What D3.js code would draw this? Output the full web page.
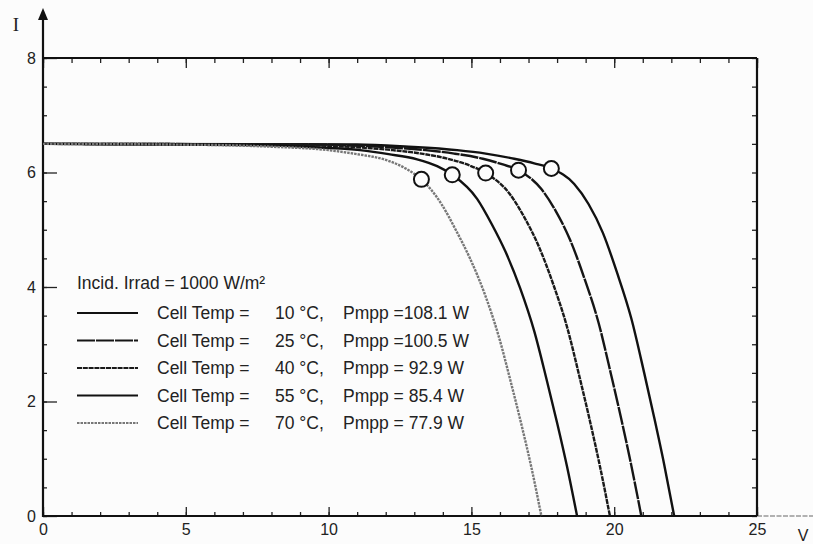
<!DOCTYPE html>
<html>
<head>
<meta charset="utf-8">
<script src="https://cdn.jsdelivr.net/npm/d3@7/dist/d3.min.js"></script>
<style>
  html, body { margin: 0; padding: 0; background: #fcfcfc; }
  svg { display: block; }
  text { font-family: "Liberation Sans", Arial, sans-serif; fill: #222; }
</style>
</head>
<body>
<svg id="chart" width="813" height="544"></svg>
<script>
// PV module I-V characteristics at 1000 W/m² for five cell temperatures
const temps = [10, 25, 40, 55, 70];
const pmpp = [108.1, 100.5, 92.9, 85.4, 77.9];

// voltage (V) / current (A) samples along each curve
const volt10 = [0, 11.0, 12.8, 14.5, 15.5, 16.5, 17.2, 17.8, 18.6, 19.1, 19.6, 20.1, 20.6, 21.05, 21.4, 21.75, 22.1];
const amp10  = [6.50, 6.49, 6.45, 6.39, 6.33, 6.24, 6.16, 6.07, 5.80, 5.45, 4.95, 4.25, 3.45, 2.50, 1.72, 0.90, 0];
const volt25 = [0, 9.4, 11.4, 13.4, 14.4, 15.4, 16.1, 16.65, 17.45, 17.95, 18.45, 18.95, 19.45, 19.9, 20.25, 20.6, 20.95];
const amp25  = [6.50, 6.49, 6.46, 6.39, 6.33, 6.24, 6.14, 6.04, 5.71, 5.33, 4.83, 4.16, 3.38, 2.45, 1.69, 0.88, 0];
const volt40 = [0, 8.25, 10.25, 12.25, 13.25, 14.25, 14.95, 15.5, 16.35, 16.85, 17.35, 17.85, 18.35, 18.8, 19.15, 19.5, 19.85];
const amp40  = [6.50, 6.49, 6.46, 6.39, 6.33, 6.23, 6.12, 5.99, 5.62, 5.22, 4.72, 4.07, 3.30, 2.40, 1.66, 0.87, 0];
const volt55 = [0, 7.1, 9.1, 11.1, 12.1, 13.1, 13.8, 14.33, 15.2, 15.7, 16.2, 16.7, 17.2, 17.65, 18.0, 18.35, 18.7];
const amp55  = [6.50, 6.48, 6.45, 6.39, 6.32, 6.23, 6.11, 5.96, 5.54, 5.11, 4.61, 3.99, 3.23, 2.35, 1.63, 0.86, 0];
const volt70 = [0, 6.0, 8.0, 10.0, 11.0, 12.0, 12.7, 13.25, 13.95, 14.45, 14.95, 15.45, 15.95, 16.4, 16.75, 17.1, 17.45];
const amp70  = [6.50, 6.48, 6.45, 6.39, 6.32, 6.22, 6.07, 5.88, 5.45, 5.00, 4.50, 3.90, 3.15, 2.30, 1.60, 0.85, 0];

// maximum power points
const mppVolt = [17.8, 16.65, 15.5, 14.33, 13.25];
const mppAmp  = [6.07, 6.04, 5.99, 5.96, 5.88];

const xTicks = [0, 5, 10, 15, 20, 25];
const yTicks = [0, 2, 4, 6, 8];

const curves = [
  { v: volt10, i: amp10, color: "#111", dash: null },
  { v: volt25, i: amp25, color: "#151515", dash: "18,1" },
  { v: volt40, i: amp40, color: "#1a1a1a", dash: "5,0.8" },
  { v: volt55, i: amp55, color: "#111", dash: null },
  { v: volt70, i: amp70, color: "#777", dash: "2.5,1" }
];

const svg = d3.select("#chart");
const x = d3.scaleLinear().domain([0, 25]).range([43, 757]);
const y = d3.scaleLinear().domain([0, 8]).range([516, 58]);

// tick marks (all pointing into the plot)
function ticks(axis, transform, size, values) {
  const g = svg.append("g").attr("transform", transform)
    .call(axis.tickValues(values).tickSize(size).tickFormat(""));
  g.select(".domain").remove();
  g.selectAll("line").attr("stroke", "#222").attr("stroke-width", 1.3);
  return g;
}
ticks(d3.axisBottom(x), "translate(0,516)", -4, d3.range(0, 26, 1));
ticks(d3.axisBottom(x), "translate(0,516)", -9, xTicks);
ticks(d3.axisTop(x), "translate(0,58)", -5, d3.range(0, 26, 1));
ticks(d3.axisTop(x), "translate(0,58)", -10, xTicks);
ticks(d3.axisLeft(y), "translate(43,0)", -4, d3.range(0, 8.01, 0.5));
ticks(d3.axisLeft(y), "translate(43,0)", -14, yTicks);
ticks(d3.axisRight(y), "translate(757,0)", -5, d3.range(0, 8.01, 0.5));

// tick labels
const xl = svg.append("g").attr("transform", "translate(0,516)")
  .call(d3.axisBottom(x).tickValues(xTicks).tickSize(0).tickPadding(8));
xl.select(".domain").remove();
xl.selectAll("text").attr("font-size", 16).attr("fill", "#222");

const yl = svg.append("g").attr("transform", "translate(43,0)")
  .call(d3.axisLeft(y).tickValues(yTicks).tickSize(0).tickPadding(7));
yl.select(".domain").remove();
yl.selectAll("text").attr("font-size", 16).attr("fill", "#222");

// frame and axes
svg.append("line").attr("x1", x(0)).attr("x2", x(25)).attr("y1", y(0)).attr("y2", y(0))
  .attr("stroke", "#111").attr("stroke-width", 2);
svg.append("line").attr("x1", x(25)).attr("x2", 813).attr("y1", y(0)).attr("y2", y(0))
  .attr("stroke", "#666").attr("stroke-width", 1.2).attr("stroke-dasharray", "5,1.5");
svg.append("line").attr("x1", x(0)).attr("x2", x(25)).attr("y1", y(8)).attr("y2", y(8))
  .attr("stroke", "#111").attr("stroke-width", 2);
svg.append("line").attr("x1", x(25)).attr("x2", x(25)).attr("y1", y(0)).attr("y2", y(8))
  .attr("stroke", "#111").attr("stroke-width", 2.2);
svg.append("line").attr("x1", x(0)).attr("x2", x(0)).attr("y1", y(0) + 1).attr("y2", 18)
  .attr("stroke", "#111").attr("stroke-width", 2.2);
svg.append("path").attr("d", `M${x(0)},8 L${x(0) - 5},20 L${x(0) + 5},20 Z`).attr("fill", "#111");

svg.append("text").attr("x", 16).attr("y", 31).attr("text-anchor", "middle")
  .style("font-family", "'Liberation Serif', 'Times New Roman', serif")
  .attr("font-size", 19).text("I");
svg.append("text").attr("x", 803).attr("y", 541).attr("text-anchor", "middle")
  .attr("font-size", 16).text("V");

// I-V curves
const line = d3.line().x(d => x(d[0])).y(d => y(d[1])).curve(d3.curveMonotoneX);
curves.forEach(c => {
  svg.append("path")
    .datum(c.v.map((v, k) => [v, c.i[k]]))
    .attr("d", line)
    .attr("fill", "none")
    .attr("stroke", c.color)
    .attr("stroke-width", 2.4)
    .attr("stroke-dasharray", c.dash);
});

// maximum power point markers
svg.selectAll("circle.mpp").data(mppVolt).enter().append("circle")
  .attr("class", "mpp")
  .attr("cx", (v) => x(v))
  .attr("cy", (v, k) => y(mppAmp[k]))
  .attr("r", 7.5)
  .attr("fill", "#fcfcfc")
  .attr("stroke", "#111")
  .attr("stroke-width", 2);

// legend
const lg = svg.append("g");
lg.append("text").attr("x", 77).attr("y", 289).attr("font-size", 17.5)
  .text("Incid. Irrad = 1000 W/m²");
temps.forEach((t, k) => {
  const ry = 313 + k * 27.5;
  lg.append("line").attr("x1", 77).attr("x2", 138).attr("y1", ry).attr("y2", ry)
    .attr("stroke", curves[k].color).attr("stroke-width", 2.2)
    .attr("stroke-dasharray", curves[k].dash);
  lg.append("text").attr("x", 157).attr("y", ry + 6).attr("font-size", 17.5).text("Cell Temp =");
  lg.append("text").attr("x", 275).attr("y", ry + 6).attr("font-size", 17.5).text(`${t} °C,`);
  const p = pmpp[k];
  lg.append("text").attr("x", 343).attr("y", ry + 6).attr("font-size", 17.5)
    .text(`Pmpp =${p >= 100 ? "" : " "}${p.toFixed(1)} W`);
});
</script>
</body>
</html>
